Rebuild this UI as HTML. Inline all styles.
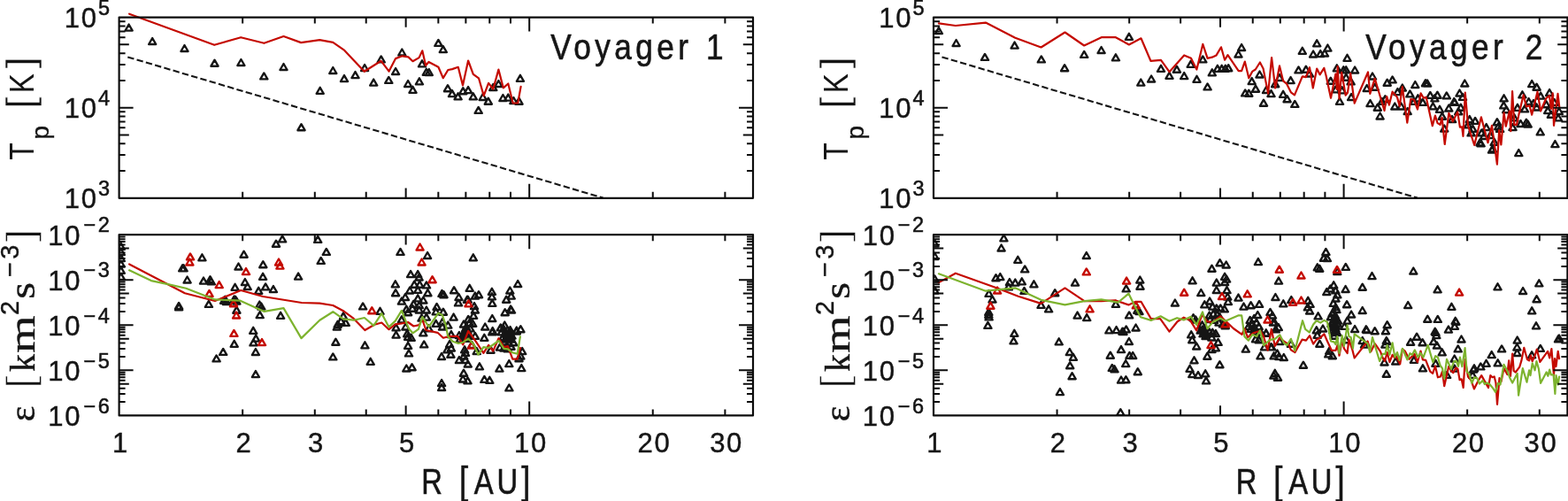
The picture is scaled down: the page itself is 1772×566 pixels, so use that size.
<!DOCTYPE html>
<html lang="en"><head><meta charset="utf-8"><title>Voyager 1 and Voyager 2</title>
<style>html,body{margin:0;padding:0;background:#fff}body{width:1772px;height:566px;overflow:hidden}svg{display:block}text{font-family:"Liberation Sans",sans-serif;fill:#151515;stroke:#151515;stroke-width:0}.s{font-family:"Liberation Serif",serif}.ax{stroke:#0c0c0c;fill:none;stroke-linejoin:round}.tri{fill:none;stroke:#151515;stroke-width:2.35;stroke-linejoin:round}.rtri{fill:none;stroke:#c40a00;stroke-width:2.35;stroke-linejoin:round}.red{fill:none;stroke:#c40a00;stroke-width:2.2;stroke-linejoin:round;stroke-linecap:round}.grn{fill:none;stroke:#7db32e;stroke-width:2.2;stroke-linejoin:round;stroke-linecap:round}.dash{fill:none;stroke:#151515;stroke-width:2.1;stroke-dasharray:7.4 3.3}</style></head><body>
<svg width="1772" height="566" viewBox="0 0 1772 566">
<rect width="1772" height="566" fill="#fff"/>
<g>
<g>
<path class="dash" d="M144.3 64.4L681.5 223.6"/>
<clipPath id="cv1t"><rect x="134.6" y="19.6" width="716.4" height="204.2"/></clipPath>
<path class="tri" clip-path="url(#cv1t)" d="M145.6 27.6l4.05 7h-8.1zM172.2 43l4.05 7h-8.1zM208.5 51l4.05 7h-8.1zM242.5 67.7l4.05 7h-8.1zM272.4 67l4.05 7h-8.1zM320.5 72l4.05 7h-8.1zM298.3 82.4l4.05 7h-8.1zM361.7 98.8l4.05 7h-8.1zM340.5 140.2l4.05 7h-8.1zM376.3 76l4.05 7h-8.1zM389 85.1l4.05 7h-8.1zM401.5 81.1l4.05 7h-8.1zM412.1 73l4.05 7h-8.1zM430.7 63.4l4.05 7h-8.1zM422.2 89.6l4.05 7h-8.1zM439.3 86.9l4.05 7h-8.1zM447.1 77l4.05 7h-8.1zM454.3 55.5l4.05 7h-8.1zM461.1 91l4.05 7h-8.1zM466.5 97.8l4.05 7h-8.1zM473.9 88.3l4.05 7h-8.1zM477 68.3l4.05 7h-8.1zM481.8 77.8l4.05 7h-8.1zM484.8 78l4.05 7h-8.1zM495.4 44.9l4.05 7h-8.1zM500.8 52.1l4.05 7h-8.1zM506 96.2l4.05 7h-8.1zM511 102.1l4.05 7h-8.1zM517.6 105.3l4.05 7h-8.1zM523.3 99.2l4.05 7h-8.1zM529.1 98.1l4.05 7h-8.1zM534.8 105.3l4.05 7h-8.1zM540.7 120.9l4.05 7h-8.1zM545.7 106l4.05 7h-8.1zM551.8 110.7l4.05 7h-8.1zM557.3 95.1l4.05 7h-8.1zM563.4 91l4.05 7h-8.1zM568.4 107l4.05 7h-8.1zM574.3 106.6l4.05 7h-8.1zM580.4 110l4.05 7h-8.1zM586.5 110.7l4.05 7h-8.1zM587.9 84.8l4.05 7h-8.1z"/>
<polyline class="red" points="146.1,15.7 242.2,50.8 272.2,42.2 298.4,48.8 320.5,41 340.2,48.1 361.3,45.1 376.3,47.8 389.3,56.9 411.7,80.8 430.7,68.8 439.6,80.6 447.1,66.1 454.6,63.3 461.4,64.4 466.5,69.2 473.6,65.1 477.3,57.3 481.1,74 484.5,70 495.4,75.8 500.8,88.2 506.3,79 511,78.1 517.8,75.8 523,96.5 529.1,68.5 534.8,83.8 541,88.3 546.7,108.1 552.1,93.8 557.3,100.6 563.4,78.6 568.8,99.3 574.3,94.5 579.7,116.5 585.2,116.5 588.6,97.9"/>
</g>
<rect class="ax" stroke-width="2.2" x="134.6" y="19.6" width="716.4" height="204.2"/>
<path class="ax" stroke-width="2" d="M274.16 223.8v-7M355.79 223.8v-7M413.72 223.8v-7M458.64 223.8v-11.2M495.35 223.8v-7M526.39 223.8v-7M553.27 223.8v-7M576.99 223.8v-7M598.2 223.8v-16M737.76 223.8v-7M819.39 223.8v-7M274.16 19.6v7M355.79 19.6v7M413.72 19.6v7M458.64 19.6v11.2M495.35 19.6v7M526.39 19.6v7M553.27 19.6v7M576.99 19.6v7M598.2 19.6v16M737.76 19.6v7M819.39 19.6v7M134.6 193.06h7M134.6 175.09h7M134.6 162.33h7M134.6 152.44h11.2M134.6 144.35h7M134.6 137.52h7M134.6 131.59h7M134.6 126.37h7M134.6 121.7h16M134.6 90.96h7M134.6 72.99h7M134.6 60.23h7M134.6 50.34h11.2M134.6 42.25h7M134.6 35.42h7M134.6 29.49h7M134.6 24.27h7M851 193.06h-7M851 175.09h-7M851 162.33h-7M851 152.44h-11.2M851 144.35h-7M851 137.52h-7M851 131.59h-7M851 126.37h-7M851 121.7h-16M851 90.96h-7M851 72.99h-7M851 60.23h-7M851 50.34h-11.2M851 42.25h-7M851 35.42h-7M851 29.49h-7M851 24.27h-7"/>
</g>
<g>
<g>
<clipPath id="cv1b"><rect x="134.6" y="265.2" width="716.4" height="204.2"/></clipPath>
<path class="tri" clip-path="url(#cv1b)" d="M136.8 274.9l4.05 7h-8.1zM136.8 281l4.05 7h-8.1zM136.8 288.1l4.05 7h-8.1zM136.8 294.6l4.05 7h-8.1zM136.8 301.8l4.05 7h-8.1zM136.8 308.9l4.05 7h-8.1zM206.2 299.3l4.05 7h-8.1zM207.6 299.3l4.05 7h-8.1zM228.4 287.3l4.05 7h-8.1zM211.6 312.5l4.05 7h-8.1zM230 313.6l4.05 7h-8.1zM237.5 312.2l4.05 7h-8.1zM238.8 314.3l4.05 7h-8.1zM275.6 283.7l4.05 7h-8.1zM269.5 297.5l4.05 7h-8.1zM276.9 315l4.05 7h-8.1zM279.7 320l4.05 7h-8.1zM265.6 320.8l4.05 7h-8.1zM297.3 295.2l4.05 7h-8.1zM297.1 308.8l4.05 7h-8.1zM300.1 320.4l4.05 7h-8.1zM292.2 324.8l4.05 7h-8.1zM308.9 323.1l4.05 7h-8.1zM312 271.7l4.05 7h-8.1zM319.1 266.4l4.05 7h-8.1zM337.1 308.6l4.05 7h-8.1zM359.2 266.9l4.05 7h-8.1zM362.7 290.9l4.05 7h-8.1zM368.8 280.9l4.05 7h-8.1zM254.5 334.7l4.05 7h-8.1zM266 334.7l4.05 7h-8.1zM202.1 341.9l4.05 7h-8.1zM202.1 343.3l4.05 7h-8.1zM235.9 339.9l4.05 7h-8.1zM253.1 335.8l4.05 7h-8.1zM255.9 337.1l4.05 7h-8.1zM264.7 334.4l4.05 7h-8.1zM267.4 336.5l4.05 7h-8.1zM267.4 346.7l4.05 7h-8.1zM293.3 340.5l4.05 7h-8.1zM295.3 342.6l4.05 7h-8.1zM293.7 352.1l4.05 7h-8.1zM317.1 352.8l4.05 7h-8.1zM286.2 369.8l4.05 7h-8.1zM289.2 378.6l4.05 7h-8.1zM286.5 383.4l4.05 7h-8.1zM264.7 384.8l4.05 7h-8.1zM252.2 393.9l4.05 7h-8.1zM288.9 394l4.05 7h-8.1zM244.6 401.4l4.05 7h-8.1zM288.9 419.1l4.05 7h-8.1zM452.5 280.9l4.05 7h-8.1zM483.1 285l4.05 7h-8.1zM534.8 287.3l4.05 7h-8.1zM464.1 306.1l4.05 7h-8.1zM472.2 306.1l4.05 7h-8.1zM473.6 309.5l4.05 7h-8.1zM446.8 317.3l4.05 7h-8.1zM468.2 317.7l4.05 7h-8.1zM474.3 317.7l4.05 7h-8.1zM482 318.4l4.05 7h-8.1zM585.2 317l4.05 7h-8.1zM530.7 321.8l4.05 7h-8.1zM513.1 324.2l4.05 7h-8.1zM447.1 327.2l4.05 7h-8.1zM463.1 324.5l4.05 7h-8.1zM472.2 323.8l4.05 7h-8.1zM483.4 327.2l4.05 7h-8.1zM499.5 327.9l4.05 7h-8.1zM501.5 329.2l4.05 7h-8.1zM555.9 325.8l4.05 7h-8.1zM576.3 324.5l4.05 7h-8.1zM541 329.2l4.05 7h-8.1zM536.9 330.6l4.05 7h-8.1zM518.5 332l4.05 7h-8.1zM458 332l4.05 7h-8.1zM472.2 333.3l4.05 7h-8.1zM555.9 331.3l4.05 7h-8.1zM577.7 330.6l4.05 7h-8.1zM528.7 334.7l4.05 7h-8.1zM478.4 335.5l4.05 7h-8.1zM572.2 334.7l4.05 7h-8.1zM453.9 336.6l4.05 7h-8.1zM467.4 339.7l4.05 7h-8.1zM473.8 341.1l4.05 7h-8.1zM459.3 345.6l4.05 7h-8.1zM461.1 349.2l4.05 7h-8.1zM466.1 344.7l4.05 7h-8.1zM473.8 346.5l4.05 7h-8.1zM481.9 346.5l4.05 7h-8.1zM493.6 342.9l4.05 7h-8.1zM492.7 348.3l4.05 7h-8.1zM500.9 348.7l4.05 7h-8.1zM518 338.4l4.05 7h-8.1zM512.6 354.6l4.05 7h-8.1zM476.5 355.5l4.05 7h-8.1zM481.9 354.6l4.05 7h-8.1zM453.9 357.3l4.05 7h-8.1zM492.7 361.8l4.05 7h-8.1zM500 360l4.05 7h-8.1zM500 365.5l4.05 7h-8.1zM506.3 363.6l4.05 7h-8.1zM447.6 366.4l4.05 7h-8.1zM458.4 365.5l4.05 7h-8.1zM484.6 367.3l4.05 7h-8.1zM410.1 342.4l4.05 7h-8.1zM429.5 347.8l4.05 7h-8.1zM388 353.3l4.05 7h-8.1zM385.3 359.1l4.05 7h-8.1zM381.7 362.7l4.05 7h-8.1zM390.7 360.9l4.05 7h-8.1zM380.8 365.5l4.05 7h-8.1zM527.9 334.8l4.05 7h-8.1zM556.3 338.8l4.05 7h-8.1zM536 342l4.05 7h-8.1zM536.9 346.5l4.05 7h-8.1zM535.1 352.8l4.05 7h-8.1zM529.2 356.9l4.05 7h-8.1zM530.6 360.9l4.05 7h-8.1zM534.2 361.8l4.05 7h-8.1zM527 365.5l4.05 7h-8.1zM531.5 367.3l4.05 7h-8.1zM556.3 356l4.05 7h-8.1zM577.1 345.6l4.05 7h-8.1zM578 346.5l4.05 7h-8.1zM570.7 349.2l4.05 7h-8.1zM548.2 365.5l4.05 7h-8.1zM570.3 363.6l4.05 7h-8.1zM565.8 366.4l4.05 7h-8.1zM576.6 369.1l4.05 7h-8.1zM588.4 368.2l4.05 7h-8.1zM583.8 369.5l4.05 7h-8.1zM556.7 370l4.05 7h-8.1zM379.4 382.7l4.05 7h-8.1zM376.3 399.4l4.05 7h-8.1zM412.4 386.3l4.05 7h-8.1zM418.7 404.8l4.05 7h-8.1zM447.6 374.6l4.05 7h-8.1zM460.2 373.2l4.05 7h-8.1zM461.1 376.8l4.05 7h-8.1zM464.7 377.8l4.05 7h-8.1zM461.1 386.8l4.05 7h-8.1zM462 395.4l4.05 7h-8.1zM478.3 372.3l4.05 7h-8.1zM479.2 385.4l4.05 7h-8.1zM509.9 374.1l4.05 7h-8.1zM518.9 375l4.05 7h-8.1zM508.1 385l4.05 7h-8.1zM509.9 389.5l4.05 7h-8.1zM505.4 391.3l4.05 7h-8.1zM509.4 396.7l4.05 7h-8.1zM499 399l4.05 7h-8.1zM518.9 403l4.05 7h-8.1zM459.3 412.5l4.05 7h-8.1zM465.6 411.2l4.05 7h-8.1zM519.7 379.6l4.05 7h-8.1zM525.1 370.5l4.05 7h-8.1zM527.9 373.2l4.05 7h-8.1zM523.3 375.9l4.05 7h-8.1zM527 378.7l4.05 7h-8.1zM536.9 375.9l4.05 7h-8.1zM533.3 385.9l4.05 7h-8.1zM525.1 391.3l4.05 7h-8.1zM526 394.9l4.05 7h-8.1zM524.2 398.5l4.05 7h-8.1zM526 403l4.05 7h-8.1zM528.8 407.5l4.05 7h-8.1zM538.7 393.1l4.05 7h-8.1zM541.9 410.3l4.05 7h-8.1zM547.3 377.8l4.05 7h-8.1zM556.3 371.4l4.05 7h-8.1zM554.5 391.7l4.05 7h-8.1zM566.7 371.4l4.05 7h-8.1zM571.2 371.4l4.05 7h-8.1zM575.7 373.2l4.05 7h-8.1zM568.5 376.8l4.05 7h-8.1zM573 377.8l4.05 7h-8.1zM577.5 379.6l4.05 7h-8.1zM570.3 382.3l4.05 7h-8.1zM574.8 384.1l4.05 7h-8.1zM580.2 383.2l4.05 7h-8.1zM564.9 388.6l4.05 7h-8.1zM569.4 389.5l4.05 7h-8.1zM573.9 390.4l4.05 7h-8.1zM577.5 387.7l4.05 7h-8.1zM583.8 370.5l4.05 7h-8.1zM590.2 393.1l4.05 7h-8.1zM588.4 398.5l4.05 7h-8.1zM586.5 401.2l4.05 7h-8.1zM575.3 407.1l4.05 7h-8.1zM589.3 412.1l4.05 7h-8.1zM564.4 412.6l4.05 7h-8.1zM524 362.5l4.05 7h-8.1zM526 367.5l4.05 7h-8.1zM528.5 370l4.05 7h-8.1zM525.5 374l4.05 7h-8.1zM529 376l4.05 7h-8.1zM569 367.5l4.05 7h-8.1zM572.5 374l4.05 7h-8.1zM575 376.5l4.05 7h-8.1zM571 379.5l4.05 7h-8.1zM576.5 370l4.05 7h-8.1zM578.5 375.5l4.05 7h-8.1zM524 417.7l4.05 7h-8.1zM523.1 424.5l4.05 7h-8.1zM528.5 426.3l4.05 7h-8.1zM499.1 429l4.05 7h-8.1zM499.1 434l4.05 7h-8.1zM547.4 424.9l4.05 7h-8.1zM553.3 425.8l4.05 7h-8.1zM575.4 434.4l4.05 7h-8.1z"/>
<path class="rtri" d="M215 286.4l4.05 7h-8.1zM214.4 292.5l4.05 7h-8.1zM247.7 318.1l4.05 7h-8.1zM236.5 327.9l4.05 7h-8.1zM278 303.1l4.05 7h-8.1zM315 292.5l4.05 7h-8.1zM316.4 296.6l4.05 7h-8.1zM264 339.2l4.05 7h-8.1zM267.1 352.5l4.05 7h-8.1zM264.4 372.9l4.05 7h-8.1zM296 383.1l4.05 7h-8.1zM474.6 275.5l4.05 7h-8.1zM476.6 292.5l4.05 7h-8.1zM488.6 312.2l4.05 7h-8.1zM420.3 347.2l4.05 7h-8.1zM529.5 339.3l4.05 7h-8.1zM533 386.5l4.05 7h-8.1z"/>
<polyline class="red" points="146.1,298.5 208.9,331.3 242.9,340 272.2,328 297.3,335 340.9,342 361.3,342.7 376.3,345 388.9,351.8 399.7,359.9 412.4,373 423.2,366.8 431.3,364.5 439.5,372.2 446.7,366.3 453.9,365.3 461.1,364 467.4,368.5 473.8,367.2 477,360.2 481.4,373 494.5,375.8 500.9,381.7 508.1,379.9 517.1,379.9 523.3,389.4 529.2,374 537.8,385.8 546.4,398.9 552.2,389.8 557.2,396.6 563.5,382.2 569.4,392.1 573.9,391.2 579.3,405.6 584.7,405.6 587.9,393"/>
<polyline class="grn" points="146.1,305.3 170.8,317.1 189.9,321.2 210.3,325.7 242.9,338.4 271.5,339.7 298.7,351.9 320.5,348.1 340.5,382.1 361.3,361.7 376.3,352.2 388,360.4 399.7,361.7 411.9,359 422.3,367.9 431.3,354.1 439.5,369.4 446.7,362.6 453.9,350.9 462,371.3 466.5,376.3 472.9,371.8 477.4,358.1 484.6,369.1 495.4,353.6 500,356.3 503.6,366.8 506.3,380.3 511.7,385.8 518,388 523.3,386.7 529.2,382.6 535.1,388.5 540.5,400.7 546.4,392.1 552.2,393 558.6,388.5 563.5,384.9 569.4,393.9 573.9,394.3 579.3,398.4 584.7,399.8 587.9,380.3"/>
</g>
<rect class="ax" stroke-width="2.2" x="134.6" y="265.2" width="716.4" height="204.2"/>
<path class="ax" stroke-width="2" d="M274.16 469.4v-7M355.79 469.4v-7M413.72 469.4v-7M458.64 469.4v-11.2M495.35 469.4v-7M526.39 469.4v-7M553.27 469.4v-7M576.99 469.4v-7M598.2 469.4v-16M737.76 469.4v-7M819.39 469.4v-7M274.16 265.2v7M355.79 265.2v7M413.72 265.2v7M458.64 265.2v11.2M495.35 265.2v7M526.39 265.2v7M553.27 265.2v7M576.99 265.2v7M598.2 265.2v16M737.76 265.2v7M819.39 265.2v7M134.6 454.03h7M134.6 445.04h7M134.6 438.66h7M134.6 433.72h11.2M134.6 429.68h7M134.6 426.26h7M134.6 423.3h7M134.6 420.69h7M134.6 418.35h16M134.6 402.98h7M134.6 393.99h7M134.6 387.61h7M134.6 382.67h11.2M134.6 378.63h7M134.6 375.21h7M134.6 372.25h7M134.6 369.64h7M134.6 367.3h16M134.6 351.93h7M134.6 342.94h7M134.6 336.56h7M134.6 331.62h11.2M134.6 327.58h7M134.6 324.16h7M134.6 321.2h7M134.6 318.59h7M134.6 316.25h16M134.6 300.88h7M134.6 291.89h7M134.6 285.51h7M134.6 280.57h11.2M134.6 276.53h7M134.6 273.11h7M134.6 270.15h7M134.6 267.54h7M851 454.03h-7M851 445.04h-7M851 438.66h-7M851 433.72h-11.2M851 429.68h-7M851 426.26h-7M851 423.3h-7M851 420.69h-7M851 418.35h-16M851 402.98h-7M851 393.99h-7M851 387.61h-7M851 382.67h-11.2M851 378.63h-7M851 375.21h-7M851 372.25h-7M851 369.64h-7M851 367.3h-16M851 351.93h-7M851 342.94h-7M851 336.56h-7M851 331.62h-11.2M851 327.58h-7M851 324.16h-7M851 321.2h-7M851 318.59h-7M851 316.25h-16M851 300.88h-7M851 291.89h-7M851 285.51h-7M851 280.57h-11.2M851 276.53h-7M851 273.11h-7M851 270.15h-7M851 267.54h-7"/>
</g>
<text transform="translate(72.8 235.2)" font-size="31"><tspan letter-spacing="1.7" style="stroke-width:0.45px">10</tspan><tspan dx="0.3" dy="-14.2" font-size="23.5" style="stroke-width:0.55px">3</tspan></text>
<text transform="translate(72.8 133.1)" font-size="31"><tspan letter-spacing="1.7" style="stroke-width:0.45px">10</tspan><tspan dx="0.3" dy="-14.2" font-size="23.5" style="stroke-width:0.55px">4</tspan></text>
<text transform="translate(72.8 31)" font-size="31"><tspan letter-spacing="1.7" style="stroke-width:0.45px">10</tspan><tspan dx="0.3" dy="-14.2" font-size="23.5" style="stroke-width:0.55px">5</tspan></text>
<text transform="translate(54.3 480.8)" font-size="31"><tspan letter-spacing="1.7" style="stroke-width:0.45px">10</tspan><tspan dx="2.2" dy="-14.2" font-size="23.5" letter-spacing="2.6" style="stroke-width:0.55px">−6</tspan></text>
<text transform="translate(54.3 429.75)" font-size="31"><tspan letter-spacing="1.7" style="stroke-width:0.45px">10</tspan><tspan dx="2.2" dy="-14.2" font-size="23.5" letter-spacing="2.6" style="stroke-width:0.55px">−5</tspan></text>
<text transform="translate(54.3 378.7)" font-size="31"><tspan letter-spacing="1.7" style="stroke-width:0.45px">10</tspan><tspan dx="2.2" dy="-14.2" font-size="23.5" letter-spacing="2.6" style="stroke-width:0.55px">−4</tspan></text>
<text transform="translate(54.3 327.65)" font-size="31"><tspan letter-spacing="1.7" style="stroke-width:0.45px">10</tspan><tspan dx="2.2" dy="-14.2" font-size="23.5" letter-spacing="2.6" style="stroke-width:0.55px">−3</tspan></text>
<text transform="translate(54.3 276.6)" font-size="31"><tspan letter-spacing="1.7" style="stroke-width:0.45px">10</tspan><tspan dx="2.2" dy="-14.2" font-size="23.5" letter-spacing="2.6" style="stroke-width:0.55px">−2</tspan></text>
<text transform="translate(135.5 510.8)" font-size="31" text-anchor="middle" style="stroke-width:0.45px">1</text>
<text transform="translate(275.06 510.8)" font-size="31" text-anchor="middle" style="stroke-width:0.45px">2</text>
<text transform="translate(356.69 510.8)" font-size="31" text-anchor="middle" style="stroke-width:0.45px">3</text>
<text transform="translate(459.54 510.8)" font-size="31" text-anchor="middle" style="stroke-width:0.45px">5</text>
<text transform="translate(599.9 510.8)" font-size="31" letter-spacing="1.7" text-anchor="middle" style="stroke-width:0.45px">10</text>
<text transform="translate(739.46 510.8)" font-size="31" letter-spacing="1.7" text-anchor="middle" style="stroke-width:0.45px">20</text>
<text transform="translate(821.09 510.8)" font-size="31" letter-spacing="1.7" text-anchor="middle" style="stroke-width:0.45px">30</text>
<text transform="translate(476.3 557.7) scale(0.82 1)" font-size="40" letter-spacing="6" style="stroke-width:0.6px">R <tspan font-size="44.5">[</tspan><tspan dx="2.2" letter-spacing="4.6">AU</tspan><tspan dx="0.3" font-size="44.5">]</tspan></text>
<text transform="translate(38 180.8) rotate(-90)" font-size="39.5"><tspan x="0" y="0" textLength="19.6" lengthAdjust="spacingAndGlyphs">T</tspan><tspan x="23.2" y="17.4" font-size="28" style="stroke-width:0.4px">p</tspan><tspan> </tspan><tspan x="57.6" y="0" font-size="44" textLength="13.8" lengthAdjust="spacingAndGlyphs" style="stroke:#fff;stroke-width:0.6px">[</tspan><tspan x="75.6" y="0" textLength="22.2" lengthAdjust="spacingAndGlyphs">K</tspan><tspan x="103.2" y="0" font-size="44" textLength="13.8" lengthAdjust="spacingAndGlyphs" style="stroke:#fff;stroke-width:0.6px">]</tspan></text>
<text transform="translate(39.2 476.2) rotate(-90)" font-size="40"><tspan class="s" x="0" y="0" font-size="42" style="stroke-width:0.4px">ε</tspan><tspan> </tspan><tspan x="36.4" y="-1.2" font-size="44" textLength="15.9" lengthAdjust="spacingAndGlyphs" style="stroke:#fff;stroke-width:1.3px">[</tspan><tspan class="s" x="56.3" y="0" font-size="40" style="stroke-width:0.4px">k</tspan><tspan class="s" x="77.2" y="0" font-size="42" textLength="42.5" lengthAdjust="spacingAndGlyphs" style="stroke-width:0.4px">m</tspan><tspan x="120.2" y="-18" font-size="29" style="stroke-width:0.4px">2</tspan><tspan class="s" x="138.4" y="0" font-size="42" textLength="18.8" lengthAdjust="spacingAndGlyphs" style="stroke-width:0.4px">s</tspan><tspan x="163.2" y="-18" font-size="29" letter-spacing="3.45" style="stroke-width:0.4px">−3</tspan><tspan x="202.4" y="-1.2" font-size="44" textLength="15.9" lengthAdjust="spacingAndGlyphs" style="stroke:#fff;stroke-width:1.3px">]</tspan></text>
<text transform="translate(622.35 66.9) scale(0.88 1)" font-size="40" letter-spacing="5" style="stroke-width:0.6px">Voyager <tspan dx="1.8">1</tspan></text>
<g>
<g>
<path class="dash" d="M1064.5 64.4L1601.7 223.6"/>
<clipPath id="cv2t"><rect x="1055" y="19.6" width="716.4" height="204.2"/></clipPath>
<path class="tri" clip-path="url(#cv2t)" d="M1060.9 31l4.05 7h-8.1zM1080.6 45l4.05 7h-8.1zM1113 60.9l4.05 7h-8.1zM1146.6 47.6l4.05 7h-8.1zM1176.8 63.4l4.05 7h-8.1zM1203.1 73.2l4.05 7h-8.1zM1225.2 57.9l4.05 7h-8.1zM1244.6 53l4.05 7h-8.1zM1260.9 61.3l4.05 7h-8.1zM1275.9 37.8l4.05 7h-8.1zM1289.3 89.6l4.05 7h-8.1zM1301.1 85.5l4.05 7h-8.1zM1312 73.8l4.05 7h-8.1zM1321.5 81.8l4.05 7h-8.1zM1329.9 74.7l4.05 7h-8.1zM1338.2 82.1l4.05 7h-8.1zM1345.7 68.8l4.05 7h-8.1zM1352.5 85.8l4.05 7h-8.1zM1359.3 63.4l4.05 7h-8.1zM1364.6 94.4l4.05 7h-8.1zM1369.8 78.3l4.05 7h-8.1zM1375.9 73.8l4.05 7h-8.1zM1380.7 73.8l4.05 7h-8.1zM1384.8 73.8l4.05 7h-8.1zM1388.2 73.2l4.05 7h-8.1zM1403.1 50l4.05 7h-8.1zM1399.5 57.5l4.05 7h-8.1zM1414.7 88.1l4.05 7h-8.1zM1423.5 80.5l4.05 7h-8.1zM1419 96.7l4.05 7h-8.1zM1407.2 101.4l4.05 7h-8.1zM1411.3 101.7l4.05 7h-8.1zM1428 112.7l4.05 7h-8.1zM1431 98l4.05 7h-8.1zM1436.5 102.1l4.05 7h-8.1zM1441.2 91.2l4.05 7h-8.1zM1446 84l4.05 7h-8.1zM1450.1 102.8l4.05 7h-8.1zM1454.6 108.2l4.05 7h-8.1zM1458.6 87.1l4.05 7h-8.1zM1463.3 113.9l4.05 7h-8.1zM1467.5 75.4l4.05 7h-8.1zM1475.9 74.7l4.05 7h-8.1zM1480 79.5l4.05 7h-8.1zM1471.8 53.8l4.05 7h-8.1zM1488.2 45.3l4.05 7h-8.1zM1500.4 50.6l4.05 7h-8.1zM1484.1 57.5l4.05 7h-8.1zM1492.2 57.1l4.05 7h-8.1zM1497 56.5l4.05 7h-8.1zM1503.8 87.7l4.05 7h-8.1zM1522.5 61.8l4.05 7h-8.1zM1510.8 73.3l4.05 7h-8.1zM1518.3 75.3l4.05 7h-8.1zM1521.2 75.3l4.05 7h-8.1zM1531.1 75.5l4.05 7h-8.1zM1551 82.5l4.05 7h-8.1zM1573.6 86.4l4.05 7h-8.1zM1521.2 83.7l4.05 7h-8.1zM1526.6 88.4l4.05 7h-8.1zM1509.4 97.4l4.05 7h-8.1zM1516.7 98.3l4.05 7h-8.1zM1514 110.8l4.05 7h-8.1zM1527.1 106l4.05 7h-8.1zM1544.7 96l4.05 7h-8.1zM1553.7 94.7l4.05 7h-8.1zM1548.5 113.1l4.05 7h-8.1zM1567.7 89.7l4.05 7h-8.1zM1556.8 117.7l4.05 7h-8.1zM1561.8 110.9l4.05 7h-8.1zM1565.4 108.2l4.05 7h-8.1zM1579.4 100.1l4.05 7h-8.1zM1584.8 95.6l4.05 7h-8.1zM1576.3 116.5l4.05 7h-8.1zM1583.5 116.5l4.05 7h-8.1zM1593.4 102.4l4.05 7h-8.1zM1599.3 92l4.05 7h-8.1zM1611 90.2l4.05 7h-8.1zM1613.1 90.6l4.05 7h-8.1zM1602.4 107.3l4.05 7h-8.1zM1597.9 110.9l4.05 7h-8.1zM1607.9 111.9l4.05 7h-8.1zM1616.3 103.9l4.05 7h-8.1zM1624.4 103.7l4.05 7h-8.1zM1621.4 107.3l4.05 7h-8.1zM1634.8 104.4l4.05 7h-8.1zM1619.4 116.3l4.05 7h-8.1zM1627 119.8l4.05 7h-8.1zM1643.2 111.1l4.05 7h-8.1zM1644 111.9l4.05 7h-8.1zM1649.5 101.5l4.05 7h-8.1zM1655.3 90.5l4.05 7h-8.1zM1653 105.9l4.05 7h-8.1zM1637.3 118.5l4.05 7h-8.1zM1650.8 117.7l4.05 7h-8.1zM1648.2 122.3l4.05 7h-8.1zM1559.6 127.5l4.05 7h-8.1zM1590.7 122l4.05 7h-8.1zM1629.8 127.7l4.05 7h-8.1zM1632.2 141.5l4.05 7h-8.1zM1641.1 131.1l4.05 7h-8.1zM1731.2 91.1l4.05 7h-8.1zM1736.6 94.7l4.05 7h-8.1zM1699.6 107.3l4.05 7h-8.1zM1699.3 115.4l4.05 7h-8.1zM1720.4 103.3l4.05 7h-8.1zM1751.1 101l4.05 7h-8.1zM1741.1 104.6l4.05 7h-8.1zM1727.6 111l4.05 7h-8.1zM1714.9 117.8l4.05 7h-8.1zM1723 119.4l4.05 7h-8.1zM1733 113l4.05 7h-8.1zM1747.4 114.2l4.05 7h-8.1zM1756.5 111.9l4.05 7h-8.1zM1660.8 131.1l4.05 7h-8.1zM1667.1 132.9l4.05 7h-8.1zM1659 137.4l4.05 7h-8.1zM1664.4 141.9l4.05 7h-8.1zM1662.6 146.4l4.05 7h-8.1zM1674.3 146.4l4.05 7h-8.1zM1679.7 140.1l4.05 7h-8.1zM1677 150l4.05 7h-8.1zM1684.2 149.1l4.05 7h-8.1zM1672.5 157.3l4.05 7h-8.1zM1673.6 158.3l4.05 7h-8.1zM1688.7 156.9l4.05 7h-8.1zM1691.9 134.2l4.05 7h-8.1zM1693.3 139.2l4.05 7h-8.1zM1695.1 141.9l4.05 7h-8.1zM1702.3 120.2l4.05 7h-8.1zM1711.3 129.3l4.05 7h-8.1zM1709.5 140.1l4.05 7h-8.1zM1718.5 136l4.05 7h-8.1zM1724.9 134.7l4.05 7h-8.1zM1726.7 136.5l4.05 7h-8.1zM1736.6 117.5l4.05 7h-8.1zM1740.7 145.3l4.05 7h-8.1zM1749.2 121.1l4.05 7h-8.1zM1752.9 125.7l4.05 7h-8.1zM1761.9 122l4.05 7h-8.1zM1761 129.3l4.05 7h-8.1zM1757.4 159.1l4.05 7h-8.1zM1686 165.5l4.05 7h-8.1zM1687 164.5l4.05 7h-8.1zM1716.3 169.1l4.05 7h-8.1z"/>
<polyline class="red" points="1060.9,26.3 1079.9,29 1113.9,25.6 1147.3,42.7 1176.5,53.5 1203.5,36.5 1225.2,51.5 1245.2,42 1260.9,42.2 1275.9,50.5 1289.5,43.3 1300.4,68.8 1312,67.8 1321.5,81.2 1338.2,62.4 1346,65.8 1352.4,78.6 1359.3,49.9 1364.6,65.8 1369.8,64.7 1374.6,62.4 1380,53.3 1384.1,67.8 1387.5,62.1 1399.7,80.1 1403.1,80.1 1406.8,69.6 1411.3,88.3 1415.4,80.6 1418.8,78.5 1423.9,70.5 1427.6,77.5 1433.1,105.6 1437.1,65.1 1441.2,99.5 1446,74.4 1450.1,91.3 1454.1,94.7 1458.9,104.3 1463,107.4 1471.8,86.4 1475.9,87.2 1480,76.2 1483.8,99.5 1488.2,77.5 1491.6,84.3 1496.3,76.8 1498.6,85.5 1504,110.7 1509.4,83.5 1510.8,100.9 1511.7,75 1513.5,111.7 1516.2,81.9 1520.7,107.7 1523,104.5 1526.2,82.8 1530.7,116.6 1546,81.5 1548.3,105.9 1553.7,88.7 1564.5,125 1567.2,109 1569.9,118.6 1573.6,103.6 1579,109.9 1581.7,120 1584.8,98.2 1590.3,138.6 1594.3,112 1597.9,112.5 1602,123.5 1605.6,105.4 1608.8,110.8 1611.5,109.9 1612.4,112.9 1618.8,142.2 1621.9,130.5 1624.6,139.1 1627.5,140.9 1629.6,132.8 1632.7,163 1637.3,127.8 1641.8,137.3 1647.2,126.4 1649.9,143.6 1652.2,143.3 1653.5,153.8 1655.8,104.5 1659,141.8 1666.2,164 1673.9,132.3 1681.5,161.2 1686,141.8 1691.9,185.7 1694.2,147 1696.4,163.5 1699.6,127.4 1701.8,142.7 1705.9,125.5 1707.3,148.1 1709.1,103.2 1711.3,140.9 1714,140.9 1716.7,128.3 1721.7,107.2 1724.9,120.5 1728.5,119.2 1731.2,129.6 1737.5,103.6 1741.1,125.5 1747.4,110.8 1751,108.1 1752.9,122.8 1754.7,105.4 1756,141.8 1760.5,105.9 1762.3,121.5"/>
</g>
<rect class="ax" stroke-width="2.2" x="1055" y="19.6" width="716.4" height="204.2"/>
<path class="ax" stroke-width="2" d="M1194.56 223.8v-7M1276.19 223.8v-7M1334.12 223.8v-7M1379.04 223.8v-11.2M1415.75 223.8v-7M1446.79 223.8v-7M1473.67 223.8v-7M1497.39 223.8v-7M1518.6 223.8v-16M1658.16 223.8v-7M1739.79 223.8v-7M1194.56 19.6v7M1276.19 19.6v7M1334.12 19.6v7M1379.04 19.6v11.2M1415.75 19.6v7M1446.79 19.6v7M1473.67 19.6v7M1497.39 19.6v7M1518.6 19.6v16M1658.16 19.6v7M1739.79 19.6v7M1055 193.06h7M1055 175.09h7M1055 162.33h7M1055 152.44h11.2M1055 144.35h7M1055 137.52h7M1055 131.59h7M1055 126.37h7M1055 121.7h16M1055 90.96h7M1055 72.99h7M1055 60.23h7M1055 50.34h11.2M1055 42.25h7M1055 35.42h7M1055 29.49h7M1055 24.27h7M1771.4 193.06h-7M1771.4 175.09h-7M1771.4 162.33h-7M1771.4 152.44h-11.2M1771.4 144.35h-7M1771.4 137.52h-7M1771.4 131.59h-7M1771.4 126.37h-7M1771.4 121.7h-16M1771.4 90.96h-7M1771.4 72.99h-7M1771.4 60.23h-7M1771.4 50.34h-11.2M1771.4 42.25h-7M1771.4 35.42h-7M1771.4 29.49h-7M1771.4 24.27h-7"/>
</g>
<g>
<g>
<clipPath id="cv2b"><rect x="1055" y="265.2" width="716.4" height="204.2"/></clipPath>
<path class="tri" clip-path="url(#cv2b)" d="M1056.5 271.5l4.05 7h-8.1zM1056.5 286l4.05 7h-8.1zM1056.5 311.5l4.05 7h-8.1zM1056.5 324.5l4.05 7h-8.1zM1134.4 265.3l4.05 7h-8.1zM1131.6 276.5l4.05 7h-8.1zM1150.3 289.8l4.05 7h-8.1zM1158.2 300.4l4.05 7h-8.1zM1125.5 310.2l4.05 7h-8.1zM1130.3 309.1l4.05 7h-8.1zM1140.9 315l4.05 7h-8.1zM1147.3 315.6l4.05 7h-8.1zM1154.8 314.3l4.05 7h-8.1zM1139.8 320.4l4.05 7h-8.1zM1168.4 317.3l4.05 7h-8.1zM1157.5 324.9l4.05 7h-8.1zM1117.6 327.9l4.05 7h-8.1zM1121.5 334.5l4.05 7h-8.1zM1192.2 327.2l4.05 7h-8.1zM1215 315.6l4.05 7h-8.1zM1227.8 285l4.05 7h-8.1zM1272.7 322.4l4.05 7h-8.1zM1288.3 312.5l4.05 7h-8.1zM1288.5 319.7l4.05 7h-8.1zM1117.3 348.9l4.05 7h-8.1zM1117.3 351.7l4.05 7h-8.1zM1117.6 354.4l4.05 7h-8.1zM1116.4 363.9l4.05 7h-8.1zM1146.3 372.8l4.05 7h-8.1zM1145.5 381.3l4.05 7h-8.1zM1176.5 340.8l4.05 7h-8.1zM1185.1 345.3l4.05 7h-8.1zM1217.6 352.6l4.05 7h-8.1zM1228.2 355.1l4.05 7h-8.1zM1196.7 382.3l4.05 7h-8.1zM1208.8 394l4.05 7h-8.1zM1212.9 399.8l4.05 7h-8.1zM1260.9 339.8l4.05 7h-8.1zM1276.1 352.4l4.05 7h-8.1zM1285.3 346.8l4.05 7h-8.1zM1287.5 348l4.05 7h-8.1zM1253.4 369.4l4.05 7h-8.1zM1261.6 369.1l4.05 7h-8.1zM1268.5 370.7l4.05 7h-8.1zM1269.5 371l4.05 7h-8.1zM1272.7 368.4l4.05 7h-8.1zM1283.6 366.5l4.05 7h-8.1zM1275.9 382l4.05 7h-8.1zM1267 391.1l4.05 7h-8.1zM1254.8 397.7l4.05 7h-8.1zM1276.5 397.9l4.05 7h-8.1zM1280.2 398l4.05 7h-8.1zM1209.2 409.2l4.05 7h-8.1zM1211.6 421.2l4.05 7h-8.1zM1197.9 439.1l4.05 7h-8.1zM1272.2 407.1l4.05 7h-8.1zM1256.8 411.9l4.05 7h-8.1zM1259.5 413.3l4.05 7h-8.1zM1285.8 416.2l4.05 7h-8.1zM1267 425.5l4.05 7h-8.1zM1272.4 425.2l4.05 7h-8.1zM1266.3 462.2l4.05 7h-8.1zM1347.6 313.3l4.05 7h-8.1zM1357.3 327l4.05 7h-8.1zM1369.5 299.7l4.05 7h-8.1zM1378.6 293.2l4.05 7h-8.1zM1385.7 295.5l4.05 7h-8.1zM1384.1 308.8l4.05 7h-8.1zM1386.1 311.6l4.05 7h-8.1zM1374.8 315.6l4.05 7h-8.1zM1384.1 315l4.05 7h-8.1zM1374.8 324l4.05 7h-8.1zM1386.5 324.1l4.05 7h-8.1zM1387.3 331.5l4.05 7h-8.1zM1399.5 332.6l4.05 7h-8.1zM1367.1 336.5l4.05 7h-8.1zM1327.9 338.5l4.05 7h-8.1zM1421.9 292.1l4.05 7h-8.1zM1445 313.6l4.05 7h-8.1zM1441.4 332l4.05 7h-8.1zM1459.3 335l4.05 7h-8.1zM1478.2 335.8l4.05 7h-8.1zM1498.4 280.9l4.05 7h-8.1zM1496 287.7l4.05 7h-8.1zM1499.9 288.1l4.05 7h-8.1zM1488.8 298.3l4.05 7h-8.1zM1491.2 299.7l4.05 7h-8.1zM1511.3 303l4.05 7h-8.1zM1507.2 318.3l4.05 7h-8.1zM1503.5 322.4l4.05 7h-8.1zM1499.3 326l4.05 7h-8.1zM1509.3 324.3l4.05 7h-8.1zM1511.3 329.3l4.05 7h-8.1zM1520.8 297.9l4.05 7h-8.1zM1520.6 323l4.05 7h-8.1zM1361.3 340.3l4.05 7h-8.1zM1387.9 337.1l4.05 7h-8.1zM1370.3 342.6l4.05 7h-8.1zM1374.8 344.4l4.05 7h-8.1zM1379.3 344.4l4.05 7h-8.1zM1383.8 345.3l4.05 7h-8.1zM1405.5 342.6l4.05 7h-8.1zM1413.6 341.2l4.05 7h-8.1zM1423.1 339.9l4.05 7h-8.1zM1348.6 355.2l4.05 7h-8.1zM1351.3 357.5l4.05 7h-8.1zM1366.7 352.5l4.05 7h-8.1zM1371.2 350.7l4.05 7h-8.1zM1375.7 351.6l4.05 7h-8.1zM1378.4 354.3l4.05 7h-8.1zM1367.6 357l4.05 7h-8.1zM1372.1 357.9l4.05 7h-8.1zM1377.5 360.6l4.05 7h-8.1zM1382 362.4l4.05 7h-8.1zM1384.7 364.2l4.05 7h-8.1zM1358.6 363.3l4.05 7h-8.1zM1361.3 366.9l4.05 7h-8.1zM1356.7 369.6l4.05 7h-8.1zM1359.5 373.3l4.05 7h-8.1zM1370.3 371.8l4.05 7h-8.1zM1373.9 373.1l4.05 7h-8.1zM1346.2 374.3l4.05 7h-8.1zM1421.3 352l4.05 7h-8.1zM1435.5 348.9l4.05 7h-8.1zM1412.7 357.9l4.05 7h-8.1zM1417.2 356.1l4.05 7h-8.1zM1410.9 365.1l4.05 7h-8.1zM1415.4 362.4l4.05 7h-8.1zM1420 360.6l4.05 7h-8.1zM1413.6 367.8l4.05 7h-8.1zM1418.1 366.9l4.05 7h-8.1zM1422.7 365.1l4.05 7h-8.1zM1417.2 370.9l4.05 7h-8.1zM1424.5 371.3l4.05 7h-8.1zM1430.8 372.3l4.05 7h-8.1zM1438 352.5l4.05 7h-8.1zM1438.9 360.6l4.05 7h-8.1zM1347.3 380.2l4.05 7h-8.1zM1352.2 387.5l4.05 7h-8.1zM1369.4 377.5l4.05 7h-8.1zM1376.6 382.9l4.05 7h-8.1zM1373.9 389.3l4.05 7h-8.1zM1369.4 391.1l4.05 7h-8.1zM1364.4 398.7l4.05 7h-8.1zM1349.5 403.3l4.05 7h-8.1zM1378.4 408.2l4.05 7h-8.1zM1344.6 412.8l4.05 7h-8.1zM1347.3 419.1l4.05 7h-8.1zM1354 420l4.05 7h-8.1zM1362.2 418.3l4.05 7h-8.1zM1363.1 426.4l4.05 7h-8.1zM1407.8 390.6l4.05 7h-8.1zM1424.5 398.3l4.05 7h-8.1zM1419 379.3l4.05 7h-8.1zM1422.7 380.2l4.05 7h-8.1zM1429 388.4l4.05 7h-8.1zM1437.1 388.4l4.05 7h-8.1zM1439.6 398.3l4.05 7h-8.1zM1439.4 420.5l4.05 7h-8.1zM1550.5 308.1l4.05 7h-8.1zM1539.7 320.7l4.05 7h-8.1zM1450.3 339.3l4.05 7h-8.1zM1440.4 360.5l4.05 7h-8.1zM1444.8 366.1l4.05 7h-8.1zM1480.6 339.8l4.05 7h-8.1zM1477.9 343.4l4.05 7h-8.1zM1480.1 347.5l4.05 7h-8.1zM1489.6 353.3l4.05 7h-8.1zM1509.5 333.5l4.05 7h-8.1zM1506.8 338.9l4.05 7h-8.1zM1509.5 343.4l4.05 7h-8.1zM1510.4 346.1l4.05 7h-8.1zM1522.1 340.2l4.05 7h-8.1zM1539.7 347l4.05 7h-8.1zM1527.1 351.5l4.05 7h-8.1zM1522.6 358.6l4.05 7h-8.1zM1504 354.2l4.05 7h-8.1zM1510.4 356l4.05 7h-8.1zM1506.8 359.6l4.05 7h-8.1zM1511.3 361.5l4.05 7h-8.1zM1567.7 363.2l4.05 7h-8.1zM1531.1 368l4.05 7h-8.1zM1543.8 368.3l4.05 7h-8.1zM1441.7 368.4l4.05 7h-8.1zM1430.9 372.9l4.05 7h-8.1zM1446.3 382l4.05 7h-8.1zM1436.3 388.3l4.05 7h-8.1zM1458.9 384.7l4.05 7h-8.1zM1443.5 395.5l4.05 7h-8.1zM1445.3 399.1l4.05 7h-8.1zM1450.8 400l4.05 7h-8.1zM1472.9 408.7l4.05 7h-8.1zM1487.8 369.3l4.05 7h-8.1zM1495 367.5l4.05 7h-8.1zM1488.7 374.8l4.05 7h-8.1zM1491.4 384.7l4.05 7h-8.1zM1506.8 365l4.05 7h-8.1zM1509.5 367.5l4.05 7h-8.1zM1511.3 372.1l4.05 7h-8.1zM1507.7 375.7l4.05 7h-8.1zM1502.2 392.8l4.05 7h-8.1zM1505.8 398.2l4.05 7h-8.1zM1501.3 396.4l4.05 7h-8.1zM1519.4 364.8l4.05 7h-8.1zM1553.7 370.2l4.05 7h-8.1zM1565.9 370.2l4.05 7h-8.1zM1539.7 381.1l4.05 7h-8.1zM1542 385.6l4.05 7h-8.1zM1521.2 380.2l4.05 7h-8.1zM1566.8 381.1l4.05 7h-8.1zM1567.5 382.1l4.05 7h-8.1zM1565.4 385.6l4.05 7h-8.1zM1564.5 405.5l4.05 7h-8.1zM1577.2 404.5l4.05 7h-8.1zM1544.5 369l4.05 7h-8.1zM1440.8 417.8l4.05 7h-8.1zM1444 422.7l4.05 7h-8.1zM1566.8 418.7l4.05 7h-8.1zM1505.5 350.5l4.05 7h-8.1zM1509 352.5l4.05 7h-8.1zM1507.5 357l4.05 7h-8.1zM1504.5 362l4.05 7h-8.1zM1510 364.5l4.05 7h-8.1zM1506 369l4.05 7h-8.1zM1512 358.5l4.05 7h-8.1zM1508.5 371l4.05 7h-8.1zM1361 371l4.05 7h-8.1zM1364 373.5l4.05 7h-8.1zM1367 371.5l4.05 7h-8.1zM1362.5 376l4.05 7h-8.1zM1359 368.5l4.05 7h-8.1zM1597.3 302.5l4.05 7h-8.1zM1624.6 323.3l4.05 7h-8.1zM1591.2 341l4.05 7h-8.1zM1640.4 342.8l4.05 7h-8.1zM1692.5 320.3l4.05 7h-8.1zM1721.1 325l4.05 7h-8.1zM1739.3 316.3l4.05 7h-8.1zM1736.6 334.2l4.05 7h-8.1zM1731.2 347.3l4.05 7h-8.1zM1613.3 356.7l4.05 7h-8.1zM1624.8 356.9l4.05 7h-8.1zM1644.7 358.8l4.05 7h-8.1zM1645.3 359.7l4.05 7h-8.1zM1643.9 364.8l4.05 7h-8.1zM1636.9 368.6l4.05 7h-8.1zM1621.7 370.8l4.05 7h-8.1zM1622.5 371.8l4.05 7h-8.1zM1623.3 375.1l4.05 7h-8.1zM1601.1 376.7l4.05 7h-8.1zM1594.1 382.7l4.05 7h-8.1zM1607.6 383.2l4.05 7h-8.1zM1620.1 382.1l4.05 7h-8.1zM1623.9 386.5l4.05 7h-8.1zM1651.5 379.5l4.05 7h-8.1zM1647.7 390.4l4.05 7h-8.1zM1629.7 394.3l4.05 7h-8.1zM1643.7 401.5l4.05 7h-8.1zM1736 364.3l4.05 7h-8.1zM1714.7 380.6l4.05 7h-8.1zM1714.4 388.5l4.05 7h-8.1zM1714.5 395l4.05 7h-8.1zM1697.1 390.4l4.05 7h-8.1zM1685.7 397.1l4.05 7h-8.1zM1740.8 389.9l4.05 7h-8.1zM1731.1 397.3l4.05 7h-8.1zM1761 379.3l4.05 7h-8.1zM1762 378.5l4.05 7h-8.1zM1692.7 406.3l4.05 7h-8.1zM1597.9 402.8l4.05 7h-8.1zM1607.9 412.3l4.05 7h-8.1zM1622.4 406.8l4.05 7h-8.1zM1643.8 412.6l4.05 7h-8.1zM1635.1 419.9l4.05 7h-8.1zM1666 412.3l4.05 7h-8.1zM1665.2 413.5l4.05 7h-8.1zM1664.1 419.9l4.05 7h-8.1zM1673.3 410.4l4.05 7h-8.1zM1679.6 406.8l4.05 7h-8.1z"/>
<path class="rtri" d="M1227.8 303.4l4.05 7h-8.1zM1273.1 313.6l4.05 7h-8.1zM1127.1 324.5l4.05 7h-8.1zM1119.4 341.7l4.05 7h-8.1zM1231.6 345.3l4.05 7h-8.1zM1283.8 341.3l4.05 7h-8.1zM1338.2 326.7l4.05 7h-8.1zM1381 331l4.05 7h-8.1zM1409.7 328.3l4.05 7h-8.1zM1445.8 300.7l4.05 7h-8.1zM1470.5 307.5l4.05 7h-8.1zM1511 300.9l4.05 7h-8.1zM1470.5 335.5l4.05 7h-8.1zM1461.1 337.8l4.05 7h-8.1zM1432.5 357.5l4.05 7h-8.1zM1384.7 362.4l4.05 7h-8.1zM1368.5 386.1l4.05 7h-8.1zM1649.1 326.6l4.05 7h-8.1z"/>
<polyline class="red" points="1060.9,319.1 1079.9,308.7 1126.2,325.3 1150.7,334.8 1176.5,342.9 1203.5,325.3 1225.5,340.2 1244.6,340.2 1260.2,339.3 1275.4,344.4 1283.5,340.8 1289.5,340.8 1300.8,360.1 1311.2,360.1 1321.5,374.6 1330.6,363.2 1337.8,358.7 1345,361.9 1352.2,373.4 1358.6,355.1 1364,363.2 1370.3,364.1 1379.3,357.3 1384.7,362.3 1393.8,371 1403.5,377.8 1406.4,371.3 1410,381 1417,376 1424.5,373.8 1428,380 1432.6,395.7 1436.8,371.9 1440.8,390.9 1446.3,381.4 1450.8,385.5 1456.2,389.1 1458.9,395.4 1463.4,398.1 1471.5,383.7 1476,384.6 1480.1,379.2 1484.2,388.6 1487.8,383.7 1492.3,381.4 1496.4,377.3 1500,385.5 1504.9,395.9 1509.5,395.9 1511.5,390 1513.5,401.7 1516.7,384.6 1518.9,393.6 1522.6,399 1524.4,383.7 1528.4,395.4 1530.7,404.4 1545.6,385.5 1549.2,397.2 1553.7,388.2 1560,397.2 1562.7,404.4 1565,408 1567.7,398.1 1570.4,409 1573.6,400.8 1576,404 1578,402.5 1582.2,411.3 1584.9,394.3 1587.7,396.5 1592.6,405.8 1598.6,399.8 1601.9,409.1 1605.5,396.5 1607.9,406.4 1611.2,406.9 1616.2,419.7 1619.1,421.9 1622,413.6 1624.9,426.3 1627.8,425.5 1630,419.7 1632.2,436.2 1637.2,413.9 1640.1,419 1642.3,421.2 1645.2,415.4 1647.4,416.8 1649.6,429.2 1651.7,428.4 1653.7,438 1655.7,406 1659,425.5 1662.6,429.9 1665.9,439.4 1670.6,429.9 1674.2,424.1 1677.8,430.6 1682,438 1684.3,424.1 1686.5,426.3 1688.7,425.5 1690.5,432.8 1692,456.8 1694.5,427 1696.5,431 1699.6,416.1 1703.4,423 1705.2,407.4 1707,424.8 1709.2,399.5 1710.7,419 1712.8,420.5 1717.2,414.7 1719.4,407.4 1722.3,392.9 1725.9,406 1728.1,407.4 1729.9,401.6 1731.7,408.1 1734.6,401.6 1736.8,394.7 1740.4,408.9 1749.1,396.9 1751.2,404.5 1753.4,394 1754.5,407.4 1756,424.1 1757,405.2 1758.5,413.9 1760.7,396.9 1762.1,405.2"/>
<polyline class="grn" points="1060.9,309.3 1113.9,328.7 1147.3,325.3 1176.5,338.8 1203.5,344.3 1225.5,340.2 1244.6,338.4 1263.6,341.6 1275.5,331.7 1281.3,343.6 1289,358.2 1300.8,361.9 1311.6,357.3 1321.5,362.8 1330.1,359.2 1337.8,361.4 1345.9,357.8 1352.2,366.8 1359,352.4 1364.4,371.3 1370.3,364.1 1379.3,359.6 1384.7,362.8 1399.2,356.4 1403.2,356.4 1406.4,380.1 1410.9,384.6 1415.4,378 1420,380.1 1424,373.5 1428.1,390.1 1435.4,383.9 1440.8,382.8 1446.3,378.3 1450.8,387.3 1454.4,390 1458.9,382.8 1463.4,396.3 1472,362.2 1475.1,371.9 1479.7,375.5 1484.2,366.5 1487.8,362.2 1492.3,364.6 1496.4,361.9 1500,363.9 1504,385.5 1507.7,386.4 1509.5,389 1511.3,380.1 1513.5,399 1516.7,379.2 1518.9,390.9 1522.6,367.4 1524.4,380.1 1526.6,381 1528.9,393.6 1530.7,377.3 1545.6,388.2 1548.3,398.1 1551,381 1559.1,408 1562.7,399.9 1565.4,399.9 1567.7,390 1570.4,400.8 1573.6,387.3 1576.3,403.5 1579,398.1 1581.6,406.9 1584.9,393.8 1590.4,406.4 1593.4,399.2 1595.9,400.9 1598.9,395.4 1602.5,403.6 1605.2,398.7 1608.5,403.6 1613.7,389.9 1619.4,409.3 1622.2,402.1 1624.9,403.7 1627.7,413 1630,416.1 1632.2,427.7 1635,405.9 1640,417 1643,408.5 1645.8,407.8 1648,413.9 1649.9,403.7 1652.4,414.2 1655.6,393.2 1657.6,419.7 1660.4,422.6 1663.3,432.8 1666.2,426.3 1669.1,427 1672,433.5 1675.7,429.9 1677.8,434 1680.5,432.5 1683.6,434.2 1687.2,438.6 1690,443 1693,432.8 1695.5,434.5 1699.5,411.8 1703.3,418.7 1706.3,427 1709.2,432.5 1714.7,421.9 1716.1,446.7 1720.8,416.1 1725.5,431.8 1728.1,418.3 1729.5,424.1 1731.7,410.3 1734.6,418.3 1736.4,408.1 1738.9,416.8 1741.1,432.8 1747.6,420.5 1749.4,424.8 1751.2,417.6 1752.7,423.4 1755.6,423.4 1757.4,444.9 1758.5,424.1 1760.7,434.6 1762.1,425.5"/>
</g>
<rect class="ax" stroke-width="2.2" x="1055" y="265.2" width="716.4" height="204.2"/>
<path class="ax" stroke-width="2" d="M1194.56 469.4v-7M1276.19 469.4v-7M1334.12 469.4v-7M1379.04 469.4v-11.2M1415.75 469.4v-7M1446.79 469.4v-7M1473.67 469.4v-7M1497.39 469.4v-7M1518.6 469.4v-16M1658.16 469.4v-7M1739.79 469.4v-7M1194.56 265.2v7M1276.19 265.2v7M1334.12 265.2v7M1379.04 265.2v11.2M1415.75 265.2v7M1446.79 265.2v7M1473.67 265.2v7M1497.39 265.2v7M1518.6 265.2v16M1658.16 265.2v7M1739.79 265.2v7M1055 454.03h7M1055 445.04h7M1055 438.66h7M1055 433.72h11.2M1055 429.68h7M1055 426.26h7M1055 423.3h7M1055 420.69h7M1055 418.35h16M1055 402.98h7M1055 393.99h7M1055 387.61h7M1055 382.67h11.2M1055 378.63h7M1055 375.21h7M1055 372.25h7M1055 369.64h7M1055 367.3h16M1055 351.93h7M1055 342.94h7M1055 336.56h7M1055 331.62h11.2M1055 327.58h7M1055 324.16h7M1055 321.2h7M1055 318.59h7M1055 316.25h16M1055 300.88h7M1055 291.89h7M1055 285.51h7M1055 280.57h11.2M1055 276.53h7M1055 273.11h7M1055 270.15h7M1055 267.54h7M1771.4 454.03h-7M1771.4 445.04h-7M1771.4 438.66h-7M1771.4 433.72h-11.2M1771.4 429.68h-7M1771.4 426.26h-7M1771.4 423.3h-7M1771.4 420.69h-7M1771.4 418.35h-16M1771.4 402.98h-7M1771.4 393.99h-7M1771.4 387.61h-7M1771.4 382.67h-11.2M1771.4 378.63h-7M1771.4 375.21h-7M1771.4 372.25h-7M1771.4 369.64h-7M1771.4 367.3h-16M1771.4 351.93h-7M1771.4 342.94h-7M1771.4 336.56h-7M1771.4 331.62h-11.2M1771.4 327.58h-7M1771.4 324.16h-7M1771.4 321.2h-7M1771.4 318.59h-7M1771.4 316.25h-16M1771.4 300.88h-7M1771.4 291.89h-7M1771.4 285.51h-7M1771.4 280.57h-11.2M1771.4 276.53h-7M1771.4 273.11h-7M1771.4 270.15h-7M1771.4 267.54h-7"/>
</g>
<text transform="translate(993.2 235.2)" font-size="31"><tspan letter-spacing="1.7" style="stroke-width:0.45px">10</tspan><tspan dx="0.3" dy="-14.2" font-size="23.5" style="stroke-width:0.55px">3</tspan></text>
<text transform="translate(993.2 133.1)" font-size="31"><tspan letter-spacing="1.7" style="stroke-width:0.45px">10</tspan><tspan dx="0.3" dy="-14.2" font-size="23.5" style="stroke-width:0.55px">4</tspan></text>
<text transform="translate(993.2 31)" font-size="31"><tspan letter-spacing="1.7" style="stroke-width:0.45px">10</tspan><tspan dx="0.3" dy="-14.2" font-size="23.5" style="stroke-width:0.55px">5</tspan></text>
<text transform="translate(974.7 480.8)" font-size="31"><tspan letter-spacing="1.7" style="stroke-width:0.45px">10</tspan><tspan dx="2.2" dy="-14.2" font-size="23.5" letter-spacing="2.6" style="stroke-width:0.55px">−6</tspan></text>
<text transform="translate(974.7 429.75)" font-size="31"><tspan letter-spacing="1.7" style="stroke-width:0.45px">10</tspan><tspan dx="2.2" dy="-14.2" font-size="23.5" letter-spacing="2.6" style="stroke-width:0.55px">−5</tspan></text>
<text transform="translate(974.7 378.7)" font-size="31"><tspan letter-spacing="1.7" style="stroke-width:0.45px">10</tspan><tspan dx="2.2" dy="-14.2" font-size="23.5" letter-spacing="2.6" style="stroke-width:0.55px">−4</tspan></text>
<text transform="translate(974.7 327.65)" font-size="31"><tspan letter-spacing="1.7" style="stroke-width:0.45px">10</tspan><tspan dx="2.2" dy="-14.2" font-size="23.5" letter-spacing="2.6" style="stroke-width:0.55px">−3</tspan></text>
<text transform="translate(974.7 276.6)" font-size="31"><tspan letter-spacing="1.7" style="stroke-width:0.45px">10</tspan><tspan dx="2.2" dy="-14.2" font-size="23.5" letter-spacing="2.6" style="stroke-width:0.55px">−2</tspan></text>
<text transform="translate(1055.9 510.8)" font-size="31" text-anchor="middle" style="stroke-width:0.45px">1</text>
<text transform="translate(1195.46 510.8)" font-size="31" text-anchor="middle" style="stroke-width:0.45px">2</text>
<text transform="translate(1277.09 510.8)" font-size="31" text-anchor="middle" style="stroke-width:0.45px">3</text>
<text transform="translate(1379.94 510.8)" font-size="31" text-anchor="middle" style="stroke-width:0.45px">5</text>
<text transform="translate(1520.3 510.8)" font-size="31" letter-spacing="1.7" text-anchor="middle" style="stroke-width:0.45px">10</text>
<text transform="translate(1659.86 510.8)" font-size="31" letter-spacing="1.7" text-anchor="middle" style="stroke-width:0.45px">20</text>
<text transform="translate(1741.49 510.8)" font-size="31" letter-spacing="1.7" text-anchor="middle" style="stroke-width:0.45px">30</text>
<text transform="translate(1396.7 557.7) scale(0.82 1)" font-size="40" letter-spacing="6" style="stroke-width:0.6px">R <tspan font-size="44.5">[</tspan><tspan dx="2.2" letter-spacing="4.6">AU</tspan><tspan dx="0.3" font-size="44.5">]</tspan></text>
<text transform="translate(958.4 180.8) rotate(-90)" font-size="39.5"><tspan x="0" y="0" textLength="19.6" lengthAdjust="spacingAndGlyphs">T</tspan><tspan x="23.2" y="17.4" font-size="28" style="stroke-width:0.4px">p</tspan><tspan> </tspan><tspan x="57.6" y="0" font-size="44" textLength="13.8" lengthAdjust="spacingAndGlyphs" style="stroke:#fff;stroke-width:0.6px">[</tspan><tspan x="75.6" y="0" textLength="22.2" lengthAdjust="spacingAndGlyphs">K</tspan><tspan x="103.2" y="0" font-size="44" textLength="13.8" lengthAdjust="spacingAndGlyphs" style="stroke:#fff;stroke-width:0.6px">]</tspan></text>
<text transform="translate(959.6 476.2) rotate(-90)" font-size="40"><tspan class="s" x="0" y="0" font-size="42" style="stroke-width:0.4px">ε</tspan><tspan> </tspan><tspan x="36.4" y="-1.2" font-size="44" textLength="15.9" lengthAdjust="spacingAndGlyphs" style="stroke:#fff;stroke-width:1.3px">[</tspan><tspan class="s" x="56.3" y="0" font-size="40" style="stroke-width:0.4px">k</tspan><tspan class="s" x="77.2" y="0" font-size="42" textLength="42.5" lengthAdjust="spacingAndGlyphs" style="stroke-width:0.4px">m</tspan><tspan x="120.2" y="-18" font-size="29" style="stroke-width:0.4px">2</tspan><tspan class="s" x="138.4" y="0" font-size="42" textLength="18.8" lengthAdjust="spacingAndGlyphs" style="stroke-width:0.4px">s</tspan><tspan x="163.2" y="-18" font-size="29" letter-spacing="3.45" style="stroke-width:0.4px">−3</tspan><tspan x="202.4" y="-1.2" font-size="44" textLength="15.9" lengthAdjust="spacingAndGlyphs" style="stroke:#fff;stroke-width:1.3px">]</tspan></text>
<text transform="translate(1543.2 66.9) scale(0.88 1)" font-size="40" letter-spacing="5" style="stroke-width:0.6px">Voyager <tspan dx="7.3">2</tspan></text>
</svg></body></html>
